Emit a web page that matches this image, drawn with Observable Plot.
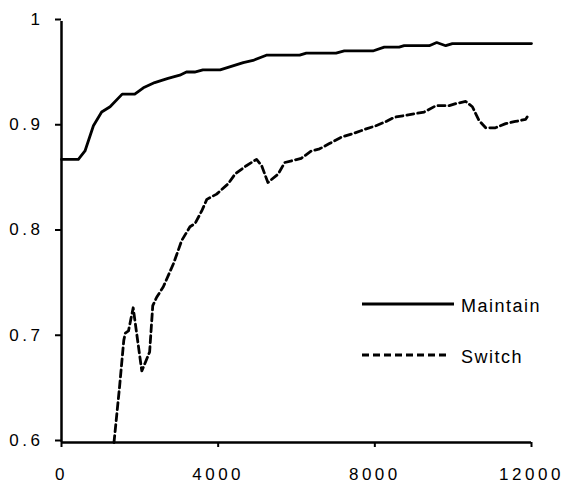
<!DOCTYPE html>
<html>
<head>
<meta charset="utf-8">
<script src="https://cdn.jsdelivr.net/npm/d3@7"></script>
<script src="https://cdn.jsdelivr.net/npm/@observablehq/plot@0.6"></script>
<style>
  html, body { margin: 0; padding: 0; background: white; }
  #wrap { position: relative; width: 566px; height: 483px; }
  #wrap svg.plot text { letter-spacing: 3.5px; }
  #legend { position: absolute; left: 0; top: 0; }
  #legend text { font-family: "Liberation Sans", Arial, sans-serif; font-size: 18px; letter-spacing: 1.5px; fill: black; }
</style>
</head>
<body>
<div id="wrap"></div>
<script>
const xTicks = [0, 4000, 8000, 12000];
const yTicks = [0.6, 0.7, 0.8, 0.9, 1];
const seriesNames = ["Maintain", "Switch"];

const maintainX = [0, 430, 600, 815, 1025, 1240, 1550, 1870, 2090, 2380, 2720, 3020, 3190, 3400, 3610, 4050, 4640, 4890, 5230, 6080, 6250, 7010, 7220, 7950, 8240, 8620, 8750, 9390, 9580, 9810, 9980, 12000];
const maintainY = [0.869, 0.869, 0.877, 0.901, 0.914, 0.919, 0.931, 0.931, 0.937, 0.942, 0.946, 0.949, 0.952, 0.952, 0.954, 0.954, 0.961, 0.963, 0.968, 0.968, 0.970, 0.970, 0.972, 0.972, 0.9756, 0.9756, 0.977, 0.977, 0.980, 0.977, 0.979, 0.979];

const switchX = [1340, 1480, 1590, 1630, 1710, 1830, 2050, 2140, 2250, 2330, 2430, 2600, 2860, 3070, 3280, 3410, 3580, 3710, 3960, 4260, 4430, 4720, 4980, 5110, 5270, 5530, 5700, 6120, 6380, 6590, 6840, 7140, 7480, 7780, 8030, 8290, 8500, 8960, 9260, 9560, 9900, 10070, 10320, 10490, 10660, 10830, 11080, 11340, 11590, 11850, 11900];
const switchY = [0.600, 0.652, 0.697, 0.704, 0.706, 0.728, 0.668, 0.676, 0.686, 0.730, 0.738, 0.748, 0.770, 0.792, 0.805, 0.808, 0.820, 0.831, 0.836, 0.846, 0.855, 0.863, 0.869, 0.863, 0.847, 0.855, 0.866, 0.870, 0.877, 0.879, 0.884, 0.890, 0.894, 0.898, 0.901, 0.905, 0.909, 0.912, 0.914, 0.920, 0.920, 0.922, 0.924, 0.919, 0.906, 0.899, 0.899, 0.903, 0.905, 0.907, 0.910];

const maintain = maintainX.map((x, i) => ({x, y: maintainY[i]}));
const sw = switchX.map((x, i) => ({x, y: switchY[i]}));

const chart = Plot.plot({
  width: 566,
  height: 483,
  marginLeft: 61,
  marginRight: 35,
  marginTop: 21,
  marginBottom: 41,
  x: {domain: [0, 12000], label: null},
  y: {domain: [0.6, 1], label: null},
  style: {fontFamily: "'Liberation Sans', Arial, sans-serif", fontSize: "17px", color: "black", background: "white", overflow: "visible"},
  marks: [
    Plot.axisX(xTicks, {tickSize: 5, tickPadding: 20, strokeWidth: 2, tickFormat: d => String(d), fontSize: 17, label: null}),
    Plot.axisY(yTicks, {tickSize: 6, tickPadding: 12, strokeWidth: 2, dy: -2, tickFormat: d => d === 1 ? "1" : d.toFixed(1), fontSize: 17, label: null}),
    Plot.ruleX([0], {strokeWidth: 2.5}),
    Plot.ruleY([0.6], {strokeWidth: 2.5}),
    Plot.line(maintain, {x: "x", y: "y", stroke: "black", strokeWidth: 2.8}),
    Plot.line(sw, {x: "x", y: "y", stroke: "black", strokeWidth: 2.8, strokeDasharray: "7,4"})
  ]
});
chart.classList.add("plot");
const wrap = document.getElementById("wrap");
wrap.appendChild(chart);

// legend overlay
const ns = "http://www.w3.org/2000/svg";
const leg = document.createElementNS(ns, "svg");
leg.setAttribute("id", "legend");
leg.setAttribute("width", 566);
leg.setAttribute("height", 483);
const items = [
  {name: seriesNames[0], dash: null, y: 304, x2: 454},
  {name: seriesNames[1], dash: "7,4", y: 355, x2: 447}
];
items.forEach(it => {
  const l = document.createElementNS(ns, "line");
  l.setAttribute("x1", 362); l.setAttribute("x2", it.x2);
  l.setAttribute("y1", it.y); l.setAttribute("y2", it.y);
  l.setAttribute("stroke", "black"); l.setAttribute("stroke-width", 2.8);
  if (it.dash) l.setAttribute("stroke-dasharray", it.dash);
  leg.appendChild(l);
  const t = document.createElementNS(ns, "text");
  t.setAttribute("x", 461); t.setAttribute("y", it.y + 2);
  t.setAttribute("dy", "0.35em");
  t.textContent = it.name;
  leg.appendChild(t);
});
wrap.appendChild(leg);
</script>
</body>
</html>
